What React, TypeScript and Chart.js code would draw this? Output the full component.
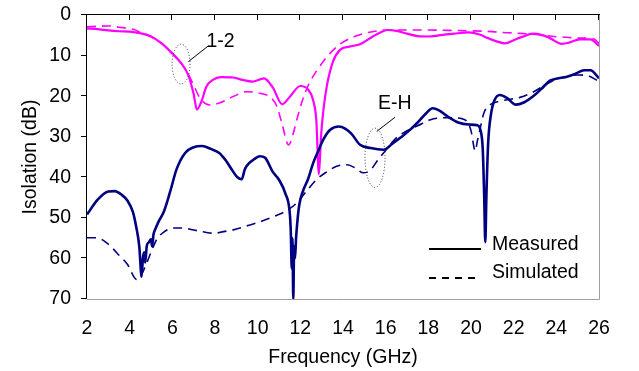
import React, { useEffect, useRef } from "react";
import { Chart, registerables } from "chart.js";

Chart.register(...registerables);

// Port 1-2, measured
const m12Freq = [2, 2.5, 3, 3.5, 4, 4.5, 5, 5.5, 6, 6.4, 6.75, 7.0, 7.15, 7.35, 7.6, 7.9, 8.25, 8.85, 9.3, 9.75, 10.3, 10.7, 11.15, 11.5, 12.0, 12.35, 12.6, 12.75, 12.87, 12.97, 13.05, 13.24, 13.53, 13.86, 14.3, 14.8, 15.4, 15.8, 16.1, 16.5, 17.0, 17.5, 18.0, 18.5, 19.2, 19.9, 20.4, 20.8, 21.2, 21.6, 22.0, 22.4, 22.9, 23.3, 23.7, 24.25, 24.6, 25.1, 25.6, 26];
const m12Meas = [3.3, 3.5, 3.8, 4.0, 4.1, 4.5, 5.3, 7.0, 9.5, 11.8, 14.8, 19.5, 23.3, 21.5, 17.6, 16.0, 15.3, 15.4, 16.0, 16.4, 15.6, 17.8, 22.0, 20.2, 17.5, 18.3, 21.0, 26.0, 39.3, 30.0, 25.0, 17.6, 11.5, 8.6, 7.8, 7.2, 5.3, 4.2, 3.7, 3.9, 4.6, 5.2, 5.3, 5.0, 4.6, 4.3, 4.8, 5.7, 6.5, 7.0, 6.2, 5.4, 4.6, 4.9, 5.7, 7.1, 6.8, 6.0, 6.0, 7.6];

// Port 1-2, simulated
const s12Freq = [2, 2.5, 3, 3.5, 4.2, 4.5, 5, 5.5, 6, 6.4, 6.75, 7.0, 7.3, 7.75, 8.2, 8.85, 9.5, 10.1, 10.6, 10.9, 11.15, 11.45, 11.65, 11.85, 12.1, 12.4, 12.75, 13.1, 13.4, 13.8, 14.2, 14.6, 15.0, 15.5, 16.0, 17.0, 18.0, 19.0, 20.0, 21.0, 21.5, 22.2, 22.8, 23.4, 23.9, 24.5, 25.0, 25.5, 25.8, 26];
const s12Sim = [2.9, 2.8, 2.7, 3.0, 3.6, 4.3, 5.3, 7.0, 9.5, 11.8, 14.6, 17.3, 20.5, 22.2, 21.7, 20.1, 18.9, 19.3, 20.3, 22.5, 27.0, 32.0, 29.5, 25.5, 21.0, 17.0, 13.9, 11.3, 9.4, 7.4, 6.1, 5.2, 4.5, 4.0, 3.7, 3.7, 3.7, 3.8, 3.9, 4.1, 4.3, 4.5, 4.7, 5.0, 5.3, 5.5, 5.7, 5.7, 6.0, 7.0];

// Port E-H, measured
const mEHFreq = [2, 2.5, 3.0, 3.3, 3.6, 3.9, 4.15, 4.3, 4.45, 4.56, 4.62, 4.68, 4.73, 4.8, 4.9, 5.0, 5.05, 5.12, 5.2, 5.35, 5.6, 5.9, 6.2, 6.6, 7.0, 7.4, 7.8, 8.2, 8.5, 8.8, 9.05, 9.25, 9.4, 9.6, 9.85, 10.1, 10.35, 10.7, 11.0, 11.3, 11.5, 11.55, 11.6, 11.63, 11.67, 11.71, 11.75, 11.8, 11.86, 11.93, 12.0, 12.15, 12.35, 12.6, 12.8, 13.1, 13.4, 13.8, 14.1, 14.4, 14.8, 15.3, 15.9, 16.3, 16.7, 17.1, 17.5, 17.9, 18.2, 18.5, 18.9, 19.4, 19.9, 20.3, 20.45, 20.55, 20.62, 20.67, 20.72, 20.8, 20.95, 21.1, 21.35, 21.7, 22.1, 22.5, 22.9, 23.3, 23.7, 24.1, 24.5, 24.9, 25.3, 25.6, 26];
const mEHMeas = [49.2, 45.5, 43.5, 43.4, 44.2, 45.8, 48.5, 52.0, 57.0, 64.5, 60.0, 58.5, 61.0, 57.0, 56.0, 55.3, 57.0, 54.0, 52.8, 51.0, 48.5, 43.5, 38.0, 34.0, 32.6, 32.3, 33.0, 34.0, 35.8, 38.2, 40.0, 40.5, 38.0, 36.5, 35.5, 34.8, 35.2, 38.6, 40.6, 44.0, 48.5, 53.0, 62.5, 55.0, 70.0, 57.0, 60.0, 55.0, 51.0, 47.5, 45.5, 43.0, 40.6, 36.5, 34.0, 30.5, 28.3, 27.5, 28.0, 29.3, 32.0, 32.8, 33.2, 31.8, 30.2, 28.5, 26.5, 24.2, 23.0, 23.5, 25.0, 26.5, 27.0, 27.2, 28.5, 33.0, 45.0, 56.0, 45.0, 32.0, 24.0, 21.0, 19.7, 20.5, 22.1, 21.5, 20.1, 18.2, 16.2, 15.6, 15.2, 14.5, 13.6, 13.6, 15.6];

// Port E-H, simulated
const sEHFreq = [2, 2.45, 3.0, 3.5, 3.9, 4.33, 4.6, 4.8, 5.0, 5.27, 5.6, 6.05, 6.5, 7.0, 7.5, 7.95, 8.4, 8.9, 9.6, 10.1, 10.8, 11.3, 11.8, 12.2, 12.75, 13.2, 13.7, 14.2, 14.6, 14.95, 15.27, 15.6, 15.9, 16.5, 17.0, 17.5, 18.1, 18.9, 19.6, 19.85, 20.0, 20.2, 20.3, 20.45, 20.6, 20.9, 21.3, 21.7, 22.3, 22.8, 23.4, 23.9, 24.5, 25.0, 25.5, 26];
const sEHSim = [54.9, 54.9, 56.5, 59.2, 61.5, 65.2, 63.5, 61.1, 58.5, 55.3, 53.5, 52.5, 52.5, 53.0, 53.5, 53.8, 53.4, 52.9, 51.8, 51.0, 49.6, 48.4, 46.5, 44.0, 40.6, 38.8, 37.3, 36.9, 37.8, 38.9, 38.3, 36.0, 34.0, 30.3, 28.5, 27.3, 25.8, 25.3, 25.6, 26.5, 28.5, 33.5, 31.0, 27.5, 24.2, 22.1, 21.3, 20.9, 20.3, 19.3, 17.5, 16.0, 15.2, 14.8, 15.0, 16.4];

const xTicks = [2, 4, 6, 8, 10, 12, 14, 16, 18, 20, 22, 24, 26];
const yTicks = [0, 10, 20, 30, 40, 50, 60, 70];
const legendLabels = ["Measured", "Simulated"];
const groupLabels = ["1-2", "E-H"];

const MAGENTA = "#ff00ff";
const NAVY = "#000080";
const FONT = "'Liberation Sans', Arial, sans-serif";
const FS = 19.5;

function pts(xs: number[], ys: number[]) {
  return xs.map((x, i) => ({ x, y: ys[i] }));
}

const framePlugin = {
  id: "frame",
  afterDraw(chart: any) {
    const { ctx, chartArea: a, scales } = chart;
    const xs = scales.x;
    const ys = scales.y;
    ctx.save();
    // bottom & right border (gray)
    ctx.strokeStyle = "#a0a0a0";
    ctx.lineWidth = 1;
    ctx.beginPath();
    ctx.moveTo(a.left, a.bottom + 0.5);
    ctx.lineTo(a.right + 0.5, a.bottom + 0.5);
    ctx.lineTo(a.right + 0.5, a.top);
    ctx.stroke();
    // top & left axes (black)
    ctx.strokeStyle = "#000";
    ctx.beginPath();
    ctx.moveTo(a.left - 0.5, a.bottom);
    ctx.lineTo(a.left - 0.5, a.top - 0.5);
    ctx.lineTo(a.right + 1, a.top - 0.5);
    ctx.stroke();
    // top ticks pointing down
    ctx.beginPath();
    xTicks.forEach((v) => {
      const px = Math.round(xs.getPixelForValue(v)) - 0.5;
      ctx.moveTo(px, a.top);
      ctx.lineTo(px, a.top + 5);
    });
    // left ticks pointing out
    yTicks.forEach((v) => {
      const py = Math.round(ys.getPixelForValue(v)) - 0.5;
      ctx.moveTo(a.left - 6, py);
      ctx.lineTo(a.left, py);
    });
    ctx.stroke();

    // annotations
    const P = (f: number, d: number) => [xs.getPixelForValue(f), ys.getPixelForValue(d)];
    const pxPerF = xs.getPixelForValue(3) - xs.getPixelForValue(2);
    const pxPerD = ys.getPixelForValue(1) - ys.getPixelForValue(0);
    const ellipse = (f: number, d: number, rf: number, rd: number) => {
      const [cx, cy] = P(f, d);
      ctx.save();
      ctx.strokeStyle = "#333";
      ctx.lineWidth = 1;
      ctx.setLineDash([1, 2]);
      ctx.beginPath();
      ctx.ellipse(cx, cy, rf * pxPerF, rd * pxPerD, 0, 0, Math.PI * 2);
      ctx.stroke();
      ctx.restore();
    };
    const leader = (f1: number, d1: number, f2: number, d2: number) => {
      const [x1, y1] = P(f1, d1);
      const [x2, y2] = P(f2, d2);
      ctx.strokeStyle = "#000";
      ctx.lineWidth = 1;
      ctx.beginPath();
      ctx.moveTo(x1, y1);
      ctx.lineTo(x2, y2);
      ctx.stroke();
    };
    ellipse(6.41, 12.1, 0.42, 4.9);
    leader(6.75, 11.5, 7.69, 7.6);
    ellipse(15.5, 35.2, 0.47, 7.3);
    leader(15.58, 28.7, 16.44, 25.2);
    ctx.fillStyle = "#000";
    ctx.font = `${FS}px ${FONT}`;
    ctx.textBaseline = "middle";
    ctx.textAlign = "left";
    {
      const [tx, ty] = P(7.6, 6.6);
      ctx.fillText(groupLabels[0], tx, ty);
    }
    {
      const [tx, ty] = P(15.64, 21.9);
      ctx.fillText(groupLabels[1], tx, ty);
    }

    // legend
    ctx.strokeStyle = "#000";
    ctx.lineWidth = 2;
    ctx.beginPath();
    ctx.moveTo(429, 249);
    ctx.lineTo(481, 249);
    ctx.stroke();
    ctx.save();
    ctx.setLineDash([7, 6]);
    ctx.beginPath();
    ctx.moveTo(429, 278);
    ctx.lineTo(481, 278);
    ctx.stroke();
    ctx.restore();
    ctx.fillText(legendLabels[0], 492, 245);
    ctx.fillText(legendLabels[1], 492, 273);
    ctx.restore();
  },
};

export default function App() {
  const ref = useRef<HTMLCanvasElement | null>(null);
  useEffect(() => {
    if (!ref.current) return;
    const common = {
      pointRadius: 0,
      fill: false,
      cubicInterpolationMode: "monotone" as const,
    };
    const chart = new Chart(ref.current, {
      type: "line",
      data: {
        datasets: [
          { ...common, label: "E-H Simulated", data: pts(sEHFreq, sEHSim), borderColor: NAVY, borderWidth: 1.6, borderDash: [9, 6] },
          { ...common, label: "1-2 Simulated", data: pts(s12Freq, s12Sim), borderColor: MAGENTA, borderWidth: 1.6, borderDash: [9, 6] },
          { ...common, label: "E-H Measured", data: pts(mEHFreq, mEHMeas), borderColor: NAVY, borderWidth: 2.6 },
          { ...common, label: "1-2 Measured", data: pts(m12Freq, m12Meas), borderColor: MAGENTA, borderWidth: 2.2 },
        ],
      },
      options: {
        animation: false,
        responsive: true,
        maintainAspectRatio: false,
        layout: { padding: { top: 15, right: 40, left: 0, bottom: 0 } },
        plugins: { legend: { display: false }, tooltip: { enabled: false } },
        scales: {
          x: {
            type: "linear",
            min: 2,
            max: 26,
            afterBuildTicks: (s: any) => {
              s.ticks = xTicks.map((v) => ({ value: v }));
            },
            afterFit: (s: any) => {
              s.height = 72;
              s.paddingLeft = 0;
              s.paddingRight = 0;
            },
            grid: { display: false, drawTicks: false },
            border: { display: false },
            ticks: { padding: 18, color: "#000", font: { family: FONT, size: FS }, maxRotation: 0, autoSkip: false },
            title: { display: true, text: "Frequency (GHz)", color: "#000", font: { family: FONT, size: FS }, padding: { top: 0, bottom: 2 } },
          },
          y: {
            type: "linear",
            min: 0,
            max: 70,
            reverse: true,
            afterBuildTicks: (s: any) => {
              s.ticks = yTicks.map((v) => ({ value: v }));
            },
            afterFit: (s: any) => {
              s.width = 87;
              s.paddingTop = 0;
              s.paddingBottom = 0;
            },
            grid: { display: false, drawTicks: false },
            border: { display: false },
            ticks: { padding: 16, color: "#000", font: { family: FONT, size: FS } },
            title: { display: true, text: "Isolation (dB)", color: "#000", font: { family: FONT, size: FS }, padding: { top: 19, bottom: 0 } },
          },
        },
      },
      plugins: [framePlugin],
    });
    return () => chart.destroy();
  }, []);
  return (
    <div style={{ position: "fixed", left: 0, top: 0, width: 639, height: 371, background: "#fff" }}>
      <canvas ref={ref} />
    </div>
  );
}
